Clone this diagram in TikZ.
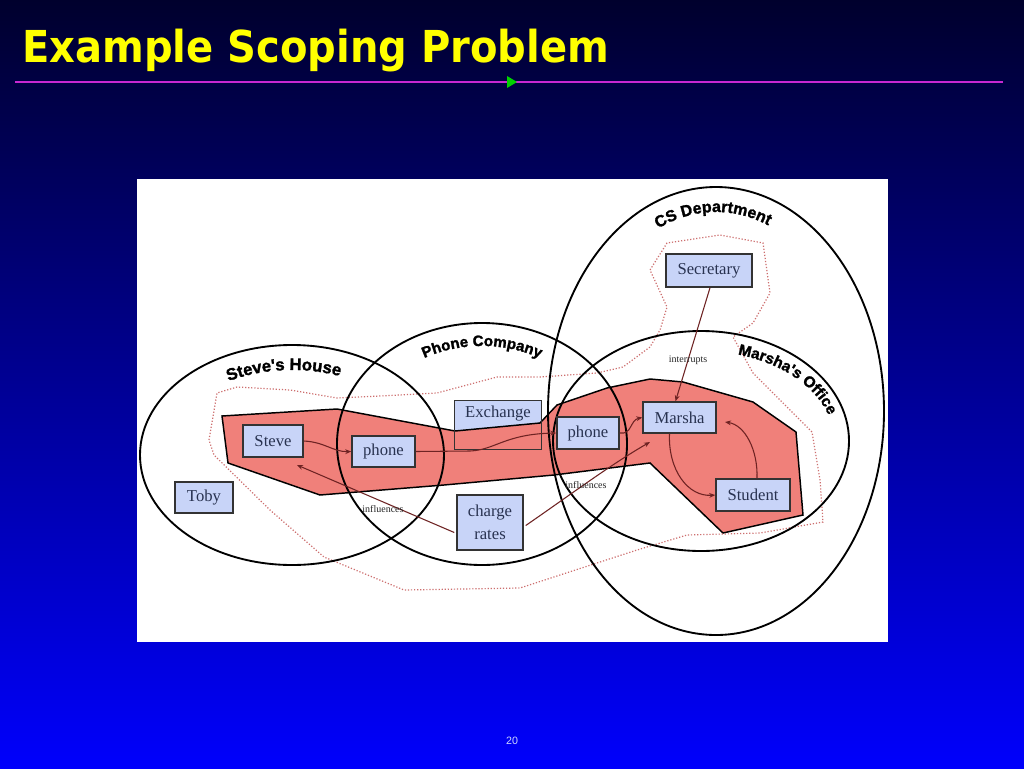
\documentclass[tikz,border=0pt]{standalone}
\usepackage{graphicx}
\usepackage{fontspec}
\setmainfont{Liberation Serif}
\setsansfont{Liberation Sans}
\newfontfamily\titlefont{DejaVu Sans}
\newfontfamily\heavyfont[FakeBold=1.6]{Liberation Sans Bold}
\usetikzlibrary{arrows.meta,decorations.text,calc}
\definecolor{bgtop}{RGB}{0,0,45}
\definecolor{bgbot}{RGB}{0,0,252}
\definecolor{ttl}{RGB}{255,255,0}
\definecolor{rulec}{RGB}{200,40,210}
\definecolor{tri}{RGB}{0,210,0}
\definecolor{boxfill}{RGB}{200,212,248}
\definecolor{boxtext}{RGB}{40,50,80}
\definecolor{region}{RGB}{240,128,122}
\definecolor{dotc}{RGB}{205,110,110}
\definecolor{arrc}{RGB}{110,35,35}
\definecolor{pgnum}{RGB}{205,215,255}
\tikzset{
  box/.style={draw=black!80, line width=1.1pt, fill=boxfill, text=boxtext,
    font=\fontsize{12.5}{14}\selectfont, inner sep=0pt},
  scopeell/.style={draw=black, line width=1.4pt},
  conn/.style={draw=arrc, line width=0.8pt, -{Stealth[length=4.5pt,width=3.6pt]}},
  smalllbl/.style={font=\fontsize{7.5}{8}\selectfont, text=black!85, inner sep=0pt},
  dotline/.style={draw=dotc, line width=0.9pt, dash pattern=on 0.9pt off 1.4pt},
}
\begin{document}
\begin{tikzpicture}[x=0.75pt,y=-0.75pt]
\useasboundingbox (0,0) rectangle (1024,768);
% background
\shade[top color=bgtop, bottom color=bgbot] (0,0) rectangle (1024,768);
% title
\node[anchor=base west, text=ttl, inner sep=0pt,
  font=\titlefont\bfseries\fontsize{33}{36}\selectfont] (title) at (22,62)
  {\scalebox{0.91}[1]{Example Scoping Problem}};
\coordinate (rl) at (15,82);
\coordinate (rr) at (1003,82);
\draw[rulec, line width=1.4pt] (rl) -- (rr);
\fill[tri] (507,76) -- (517,82) -- (507,88) -- cycle;
\node[font=\sffamily\fontsize{8}{9}\selectfont, text=pgnum] (pg) at (512,741) {20};
% white panel
\fill[white] (137,179) rectangle (888,642);
% Exchange box (fill first, red region overlaps it)
\node[box, draw=none, minimum width=64.5pt, minimum height=36pt] (exch) at (498,425) {};
% red region
\fill[region, draw=black, line width=1.1pt]
  (222,416) -- (337,409) -- (455,431) -- (540,423) -- (557,405) -- (607,388)
  -- (650,379) -- (683,382) -- (753,402) -- (796,432) -- (803,515) -- (723,533)
  -- (650,463) -- (554,475) -- (444,485) -- (320,495) -- (228,463) -- cycle;
\draw[black!80, line width=1.1pt] (exch.south west) rectangle (exch.north east);
\node[text=boxtext, font=\fontsize{12.5}{14}\selectfont, inner sep=0pt] (exchtxt) at (498,414) {Exchange};
% dotted contour
\draw[dotline]
  (209,440) -- (217,393) -- (237,387) -- (290,390) -- (337,398) -- (380,396)
  -- (437,393) -- (497,377) -- (540,377) -- (597,373) -- (623,367) -- (650,347)
  -- (660,330) -- (667,307) -- (650,270) -- (667,243) -- (720,235) -- (763,243)
  -- (770,293) -- (753,323) -- (733,337) -- (753,373) -- (787,407) -- (812,432)
  -- (820,480) -- (823,522) -- (760,533) -- (687,535) -- (637,550) -- (520,588)
  -- (404,590) -- (324,557) -- (270,510) -- (214,455) -- cycle;
% scope ellipses
\draw[scopeell] (292,455) ellipse [x radius=152, y radius=110];
\draw[scopeell] (482,444) ellipse [x radius=145, y radius=121];
\draw[scopeell] (716,411) ellipse [x radius=168, y radius=224];
\draw[scopeell] (701,441) ellipse [x radius=148, y radius=110];
% curved labels
\path[decorate, decoration={text along path, text align=center,
  text={|\heavyfont\fontsize{12.5}{14}\selectfont|Steve's House}}]
  ($(292,455)+(200:128 and 85)$) arc [start angle=200, end angle=330, x radius=128, y radius=85];
\path[decorate, decoration={text along path, text align=center,
  text={|\heavyfont\fontsize{11.3}{13}\selectfont|Phone Company}}]
  ($(482,444)+(210:120 and 98)$) arc [start angle=210, end angle=330, x radius=120, y radius=98];
\path[decorate, decoration={text along path, text align=center,
  text={|\heavyfont\fontsize{12}{14}\selectfont|CS Department}}]
  ($(716,411)+(220:145 and 199)$) arc [start angle=220, end angle=318, x radius=145, y radius=199];
\path[decorate, decoration={text along path, text align=center,
  text={|\heavyfont\fontsize{11.5}{14}\selectfont|Marsha's Office}}]
  ($(701,441)+(276:133 and 90)$) arc [start angle=276, end angle=358, x radius=133, y radius=90];
% boxes
\node[box, minimum width=45pt, minimum height=24pt] (steve) at (273,441) {Steve};
\node[box, minimum width=47.25pt, minimum height=23.25pt] (phone1) at (383.5,451.5) {phone};
\node[box, minimum width=43.5pt, minimum height=23.25pt] (toby) at (204,497.5) {Toby};
\node[box, minimum width=46.5pt, minimum height=24pt] (phone2) at (588,433) {phone};
\node[box, minimum width=49.5pt, minimum height=41.25pt, align=center,
  font=\fontsize{12.5}{17}\selectfont] (charge) at (490,522.5) {charge\\rates};
\node[box, minimum width=54.75pt, minimum height=23.25pt] (marsha) at (679.5,417.5) {Marsha};
\node[box, minimum width=55.5pt, minimum height=24pt] (student) at (753,495) {Student};
\node[box, minimum width=64.5pt, minimum height=24.75pt] (secretary) at (709,270.5) {Secretary};
% connectors
\coordinate (chM) at (650,442);
\coordinate (chS) at (297,465);
\coordinate (smt) at (725,422);
\draw[conn] (steve.east) .. controls (325,442) and (333,452) .. (phone1.west);
\draw[conn] (phone1.east) -- (470,451) .. controls (495,450) and (505,434) .. (phone2.west);
\draw[conn] (phone2.east) .. controls (632,435) and (630,420) .. (marsha.west);
\draw[conn] ($(charge.east)+(2,3)$) .. controls (570,495) and (610,465) .. (chM);
\draw[conn] ($(charge.west)+(-2,10)$) -- (chS);
\draw[conn] ($(secretary.south)+(1,0)$) -- ($(marsha.north)+(-4,0)$);
\draw[conn] ($(marsha.south)+(-10,0)$) .. controls (668,470) and (688,497) .. (student.west);
\draw[conn] ($(student.north)+(4,0)$) .. controls (758,450) and (745,425) .. (smt);
% connector labels
\node[smalllbl] (infl1) at (383,509) {influences};
\node[smalllbl] (infl2) at (586,485) {influences};
\node[smalllbl] (intr) at (688,360) {interrupts};
\end{tikzpicture}
\end{document}
